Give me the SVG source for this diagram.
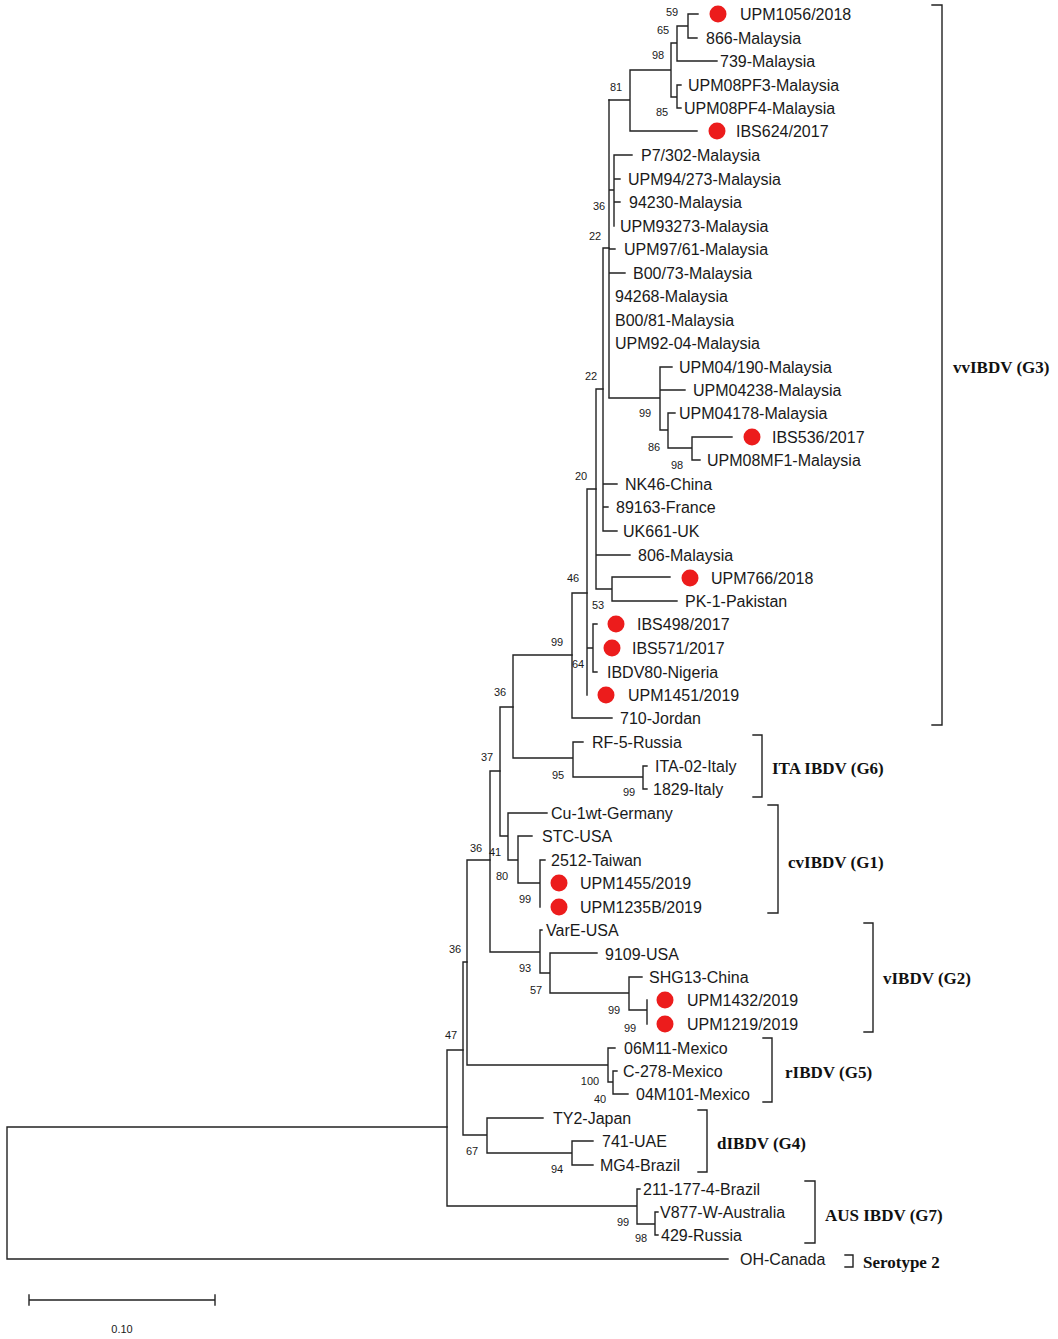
<svg xmlns="http://www.w3.org/2000/svg" width="1058" height="1339" viewBox="0 0 1058 1339">
<style>
.br{fill:none;stroke:#222;stroke-width:1.4;stroke-linecap:square}
.lf{font-family:"Liberation Sans",Arial,sans-serif;font-size:16px;fill:#1a1a1a}
.bs{font-family:"Liberation Sans",Arial,sans-serif;font-size:11px;fill:#1a1a1a;text-anchor:middle}
.gl{font-family:"Liberation Serif","Times New Roman",serif;font-size:17px;font-weight:bold;fill:#111}
.dot{fill:#ec1c1c}
</style>
<rect width="1058" height="1339" fill="#fff"/>
<g id="connectors" class="br">
<path d="M688,14H698M688,38H697M688,14V38M677,26H688M677,26V61M677,61H717M677,85V108M677,85H681M677,108H681M671,43V97M671,43H677M671,97H677M630,70H671M630,70V131M630,131H697M609,100H630"/>
<path d="M609,100V397M609,190H614M614,155V226M614,155H632M614,179H620M614,202H620M609,249H615M609,273H625"/>
<path d="M609,398H660M660,367V430M660,367H672M660,390H685M660,430H668M668,413V448M668,413H675M668,448H692M692,437V460M692,437H732M692,460H700"/>
<path d="M603,248H609M603,248V531M603,484H617M603,507H608M603,531H617"/>
<path d="M596,389H603M596,389V589M596,555H630M596,589H612M612,577V601M612,577H670M612,601H677"/>
<path d="M587,489H596M587,489V695M587,648H593M593,624V672M593,624H597M593,672H597"/>
<path d="M572,593H587M572,593V718M572,718H612"/>
<path d="M513,655H572M513,655V758M513,758H573M573,742V777M573,742H583M573,777H643M643,766V789M643,766H647M643,789H647"/>
<path d="M500,707H513M500,707V836M500,836H508M508,813V860M508,813H547M508,860H518M518,836V883M518,836H532M518,883H540M540,860V907M540,860H545"/>
<path d="M490,771H500M490,771V952M490,952H540M540,930V973M540,930H542M540,973H550M550,953V993M550,953H597M550,993H629M629,977V1010M629,977H642M629,1010H647M647,1000V1024"/>
<path d="M467,860H490M467,860V1065M467,1065H608M608,1048V1082M608,1048H615M608,1082H613M613,1071V1094M613,1071H617M613,1094H628"/>
<path d="M463,962H467M463,962V1135M463,1135H487M487,1118V1153M487,1118H543M487,1153H572M572,1141V1165M572,1141H593M572,1165H593"/>
<path d="M447,1050H463M447,1050V1206M447,1206H637M637,1189V1224M637,1189H640M637,1224H655M655,1212V1235M655,1212H658M655,1235H658"/>
<path d="M7,1127H447M7,1127V1259M7,1259H728"/>
</g>
<g id="bootstrap">
<text class="bs" x="672" y="16">59</text>
<text class="bs" x="663" y="34">65</text>
<text class="bs" x="658" y="59">98</text>
<text class="bs" x="616" y="91">81</text>
<text class="bs" x="662" y="116">85</text>
<text class="bs" x="599" y="210">36</text>
<text class="bs" x="595" y="240">22</text>
<text class="bs" x="591" y="380">22</text>
<text class="bs" x="645" y="417">99</text>
<text class="bs" x="654" y="451">86</text>
<text class="bs" x="677" y="469">98</text>
<text class="bs" x="581" y="480">20</text>
<text class="bs" x="573" y="582">46</text>
<text class="bs" x="598" y="609">53</text>
<text class="bs" x="557" y="646">99</text>
<text class="bs" x="578" y="668">64</text>
<text class="bs" x="500" y="696">36</text>
<text class="bs" x="487" y="761">37</text>
<text class="bs" x="558" y="779">95</text>
<text class="bs" x="629" y="796">99</text>
<text class="bs" x="476" y="852">36</text>
<text class="bs" x="495" y="856">41</text>
<text class="bs" x="502" y="880">80</text>
<text class="bs" x="525" y="903">99</text>
<text class="bs" x="455" y="953">36</text>
<text class="bs" x="525" y="972">93</text>
<text class="bs" x="536" y="994">57</text>
<text class="bs" x="614" y="1014">99</text>
<text class="bs" x="630" y="1032">99</text>
<text class="bs" x="451" y="1039">47</text>
<text class="bs" x="590" y="1085">100</text>
<text class="bs" x="600" y="1103">40</text>
<text class="bs" x="472" y="1155">67</text>
<text class="bs" x="557" y="1173">94</text>
<text class="bs" x="623" y="1226">99</text>
<text class="bs" x="641" y="1242">98</text>
</g>
<g id="leaves">
<g id="n0"><circle class="dot" cx="718" cy="14" r="8.5"/><text class="lf" x="740" y="20">UPM1056/2018</text></g>
<g id="n1"><text class="lf" x="706" y="44">866-Malaysia</text></g>
<g id="n2"><text class="lf" x="720" y="67">739-Malaysia</text></g>
<g id="n3"><text class="lf" x="688" y="91">UPM08PF3-Malaysia</text></g>
<g id="n4"><text class="lf" x="684" y="114">UPM08PF4-Malaysia</text></g>
<g id="n5"><circle class="dot" cx="717" cy="131" r="8.5"/><text class="lf" x="736" y="137">IBS624/2017</text></g>
<g id="n6"><text class="lf" x="641" y="161">P7/302-Malaysia</text></g>
<g id="n7"><text class="lf" x="628" y="185">UPM94/273-Malaysia</text></g>
<g id="n8"><text class="lf" x="629" y="208">94230-Malaysia</text></g>
<g id="n9"><text class="lf" x="620" y="232">UPM93273-Malaysia</text></g>
<g id="n10"><text class="lf" x="624" y="255">UPM97/61-Malaysia</text></g>
<g id="n11"><text class="lf" x="633" y="279">B00/73-Malaysia</text></g>
<g id="n12"><text class="lf" x="615" y="302">94268-Malaysia</text></g>
<g id="n13"><text class="lf" x="615" y="326">B00/81-Malaysia</text></g>
<g id="n14"><text class="lf" x="615" y="349">UPM92-04-Malaysia</text></g>
<g id="n15"><text class="lf" x="679" y="373">UPM04/190-Malaysia</text></g>
<g id="n16"><text class="lf" x="693" y="396">UPM04238-Malaysia</text></g>
<g id="n17"><text class="lf" x="679" y="419">UPM04178-Malaysia</text></g>
<g id="n18"><circle class="dot" cx="752" cy="437" r="8.5"/><text class="lf" x="772" y="443">IBS536/2017</text></g>
<g id="n19"><text class="lf" x="707" y="466">UPM08MF1-Malaysia</text></g>
<g id="n20"><text class="lf" x="625" y="490">NK46-China</text></g>
<g id="n21"><text class="lf" x="616" y="513">89163-France</text></g>
<g id="n22"><text class="lf" x="623" y="537">UK661-UK</text></g>
<g id="n23"><text class="lf" x="638" y="561">806-Malaysia</text></g>
<g id="n24"><circle class="dot" cx="690" cy="578" r="8.5"/><text class="lf" x="711" y="584">UPM766/2018</text></g>
<g id="n25"><text class="lf" x="685" y="607">PK-1-Pakistan</text></g>
<g id="n26"><circle class="dot" cx="616" cy="624" r="8.5"/><text class="lf" x="637" y="630">IBS498/2017</text></g>
<g id="n27"><circle class="dot" cx="612" cy="648" r="8.5"/><text class="lf" x="632" y="654">IBS571/2017</text></g>
<g id="n28"><text class="lf" x="607" y="678">IBDV80-Nigeria</text></g>
<g id="n29"><circle class="dot" cx="606" cy="695" r="8.5"/><text class="lf" x="628" y="701">UPM1451/2019</text></g>
<g id="n30"><text class="lf" x="620" y="724">710-Jordan</text></g>
<g id="n31"><text class="lf" x="592" y="748">RF-5-Russia</text></g>
<g id="n32"><text class="lf" x="655" y="772">ITA-02-Italy</text></g>
<g id="n33"><text class="lf" x="653" y="795">1829-Italy</text></g>
<g id="n34"><text class="lf" x="551" y="819">Cu-1wt-Germany</text></g>
<g id="n35"><text class="lf" x="542" y="842">STC-USA</text></g>
<g id="n36"><text class="lf" x="551" y="866">2512-Taiwan</text></g>
<g id="n37"><circle class="dot" cx="559" cy="883" r="8.5"/><text class="lf" x="580" y="889">UPM1455/2019</text></g>
<g id="n38"><circle class="dot" cx="559" cy="907" r="8.5"/><text class="lf" x="580" y="913">UPM1235B/2019</text></g>
<g id="n39"><text class="lf" x="546" y="936">VarE-USA</text></g>
<g id="n40"><text class="lf" x="605" y="960">9109-USA</text></g>
<g id="n41"><text class="lf" x="649" y="983">SHG13-China</text></g>
<g id="n42"><circle class="dot" cx="665" cy="1000" r="8.5"/><text class="lf" x="687" y="1006">UPM1432/2019</text></g>
<g id="n43"><circle class="dot" cx="665" cy="1024" r="8.5"/><text class="lf" x="687" y="1030">UPM1219/2019</text></g>
<g id="n44"><text class="lf" x="624" y="1054">06M11-Mexico</text></g>
<g id="n45"><text class="lf" x="623" y="1077">C-278-Mexico</text></g>
<g id="n46"><text class="lf" x="636" y="1100">04M101-Mexico</text></g>
<g id="n47"><text class="lf" x="553" y="1124">TY2-Japan</text></g>
<g id="n48"><text class="lf" x="602" y="1147">741-UAE</text></g>
<g id="n49"><text class="lf" x="600" y="1171">MG4-Brazil</text></g>
<g id="n50"><text class="lf" x="643" y="1195">211-177-4-Brazil</text></g>
<g id="n51"><text class="lf" x="660" y="1218">V877-W-Australia</text></g>
<g id="n52"><text class="lf" x="661" y="1241">429-Russia</text></g>
<g id="n53"><text class="lf" x="740" y="1265">OH-Canada</text></g>
</g>
<g id="groups">
<path class="br" d="M932,5H942V725H932"/>
<text class="gl" x="953" y="373">vvIBDV (G3)</text>
<path class="br" d="M753,735H762V797H753"/>
<text class="gl" x="772" y="774">ITA IBDV (G6)</text>
<path class="br" d="M768,805H778V913H768"/>
<text class="gl" x="788" y="868">cvIBDV (G1)</text>
<path class="br" d="M864,923H873V1032H864"/>
<text class="gl" x="883" y="984">vIBDV (G2)</text>
<path class="br" d="M763,1038H772V1102H763"/>
<text class="gl" x="785" y="1078">rIBDV (G5)</text>
<path class="br" d="M698,1110H707V1172H698"/>
<text class="gl" x="717" y="1149">dIBDV (G4)</text>
<path class="br" d="M805,1181H815V1243H805"/>
<text class="gl" x="825" y="1221">AUS IBDV (G7)</text>
<path class="br" d="M845,1255H853V1267H845"/>
<text class="gl" x="863" y="1268">Serotype 2</text>
</g>
<g id="scale">
<path class="br" d="M29,1300H215M29,1295V1305M215,1295V1305"/>
<text class="bs" x="122" y="1333">0.10</text>
</g>
</svg>
